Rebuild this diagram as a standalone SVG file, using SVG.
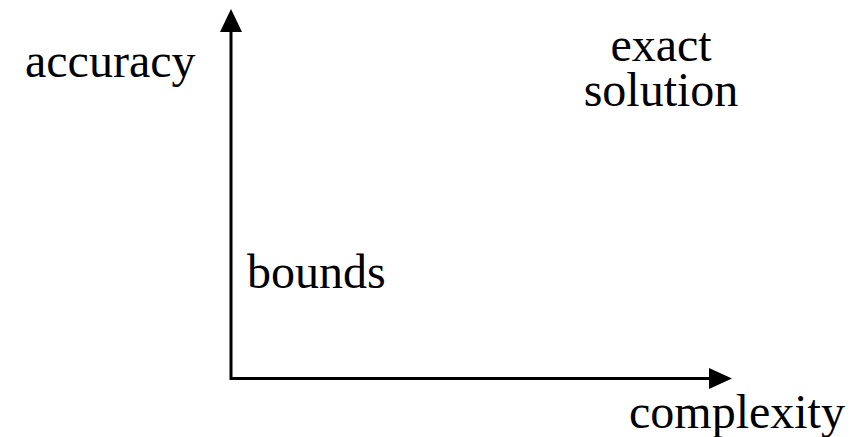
<svg xmlns="http://www.w3.org/2000/svg" width="859" height="437" viewBox="0 0 859 437">
<style>
.t { font-family: 'Liberation Serif', 'Times New Roman', serif; font-size: 48px; fill: #000; }
.axis { stroke: #000; stroke-width: 3; fill: none; }
</style>
<rect width="859" height="437" fill="#fff"/>
<g id="connectors">
<line class="axis" x1="231" y1="380" x2="231" y2="30"/>
<polygon points="231,9 220,32 242,32" fill="#000"/>
<line class="axis" x1="230" y1="378.5" x2="712" y2="378.5"/>
<polygon points="732,378.5 709,368 709,389" fill="#000"/>
</g>
<g id="accuracy"><text class="t" x="25" y="77">accuracy</text></g>
<g id="complexity"><text class="t" x="629" y="428">complexity</text></g>
<g id="bounds"><text class="t" x="247" y="288">bounds</text></g>
<g id="exact-solution"><text class="t" text-anchor="middle"><tspan x="661" y="61">exact</tspan><tspan x="661" y="106">solution</tspan></text></g>
</svg>
